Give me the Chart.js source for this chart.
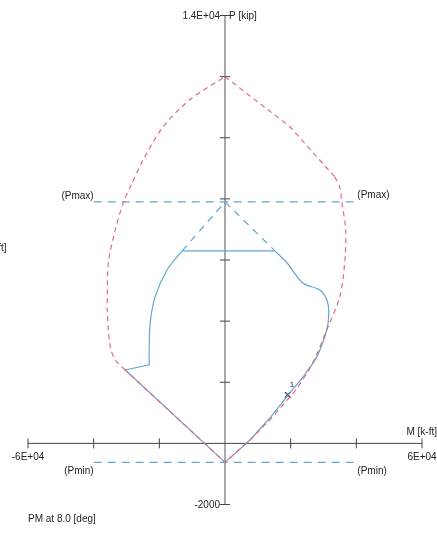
<!DOCTYPE html>
<html>
<head>
<meta charset="utf-8">
<script src="https://cdn.jsdelivr.net/npm/chart.js@4/dist/chart.umd.min.js"></script>
<style>
html,body{margin:0;padding:0;background:#fff;}
canvas{display:block;}
</style>
</head>
<body>
<canvas id="c" width="437" height="533"></canvas>
<script>
// ---- data ----
const nominalM = [0,-30380,-33420,-34940,-35850,-35850,-35540,-33420,-30990,-28250,-24910,-18840,-10630,0,19800,33420,34940,35540,36760,36460,34940,30990,26730,21570,13670,7600,0];
const nominalP = [-620,2400,2730,3160,4280,4800,5910,6990,7870,8530,9280,10360,11250,12000,10360,8720,8390,7910,6990,5910,4790,3710,2630,1740,770,110,-620];
const factoredM = [0,-30380,-23090,-23090,-22790,-21270,-17620,-13060,15190,18840,23700,28860,30990,31600,30990,27950,23700,19750,13670,7600,0];
const factoredP = [-620,2400,2570,3160,3950,4800,5680,6300,6300,5910,5250,5020,4700,4270,3710,2830,2170,1650,830,110,-620];
const capM = [-13060,0,15190];
const capP = [6300,7900,6300];
const pmaxM = [-40000,40000];
const pmaxP = [7900,7900];
const pminM = [-40000,40000];
const pminP = [-620,-620];
const loadM = [19140];
const loadP = [1585];
const loadLabels = ["1"];
const xTicks = [-60000,-40000,-20000,20000,40000,60000];
const yTicks = [-2000,0,2000,4000,6000,8000,10000,12000,14000];
const xTickLabels = {"-60000":"-6E+04","60000":"6E+04"};
const yTickLabels = {"14000":"1.4E+04","-2000":"-2000"};

const zip = (a,b) => a.map((v,i)=>({x:v,y:b[i]}));
const seg = (a,b,i0,i1) => zip(a.slice(i0,i1+1), b.slice(i0,i1+1));
const RED = 'rgb(232,104,124)';
const BLUE = 'rgb(98,166,208)';
const FONT = '10px "Liberation Sans", Arial, sans-serif';

const redLine = (pts, t) => ({data:pts, showLine:true, borderColor:RED, borderWidth:1.2, borderDash:[5,4], pointRadius:0, fill:false, tension:t});
const blueLine = (pts, t) => ({data:pts, showLine:true, borderColor:BLUE, borderWidth:1.2, pointRadius:0, fill:false, tension:t});

const axesPlugin = {
  id:'axesPlugin',
  beforeDatasetsDraw(chart){
    const ctx = chart.ctx, xs = chart.scales.x, ys = chart.scales.y;
    const x0 = xs.getPixelForValue(0), y0 = ys.getPixelForValue(0);
    ctx.save();
    ctx.strokeStyle = '#8c8c8c'; ctx.lineWidth = 1.5;
    ctx.beginPath();
    ctx.moveTo(x0, ys.getPixelForValue(14000)); ctx.lineTo(x0, ys.getPixelForValue(-2000));
    ctx.stroke();
    ctx.strokeStyle = '#444'; ctx.lineWidth = 1;
    yTicks.forEach(v=>{ if(v===0) return; const y = ys.getPixelForValue(v);
      ctx.beginPath(); ctx.moveTo(x0-5,y); ctx.lineTo(x0+5,y); ctx.stroke(); });
    ctx.strokeStyle = '#444'; ctx.lineWidth = 1;
    ctx.beginPath();
    ctx.moveTo(xs.getPixelForValue(-60000), y0); ctx.lineTo(xs.getPixelForValue(60000), y0);
    ctx.stroke();
    xTicks.forEach(v=>{ const x = xs.getPixelForValue(v);
      ctx.beginPath(); ctx.moveTo(x,y0-5); ctx.lineTo(x,y0+5); ctx.stroke(); });
    ctx.restore();
  },
  afterDraw(chart){
    const ctx = chart.ctx, xs = chart.scales.x, ys = chart.scales.y;
    const x0 = xs.getPixelForValue(0), y0 = ys.getPixelForValue(0);
    ctx.save();
    ctx.font = FONT; ctx.fillStyle = '#222'; ctx.textBaseline = 'middle';
    ctx.textAlign = 'right';
    ctx.fillText(yTickLabels["14000"], x0-5, ys.getPixelForValue(14000)+1);
    ctx.fillText(yTickLabels["-2000"], x0-5, ys.getPixelForValue(-2000)+1);
    ctx.textAlign = 'left';
    ctx.fillText('P [kip]', x0+4, ys.getPixelForValue(14000)+1);
    ctx.textAlign = 'center';
    ctx.fillText(xTickLabels["-60000"], xs.getPixelForValue(-60000), y0+14);
    ctx.fillText(xTickLabels["60000"], xs.getPixelForValue(60000), y0+14);
    ctx.textAlign = 'right';
    ctx.fillText('M [k-ft]', 437, y0-11);
    ctx.textAlign = 'right';
    ctx.fillText('(Pmax)', xs.getPixelForValue(pmaxM[0]), ys.getPixelForValue(pmaxP[0])-6);
    ctx.fillText('(Pmin)', xs.getPixelForValue(pminM[0]), ys.getPixelForValue(pminP[0])+9);
    ctx.textAlign = 'left';
    ctx.fillText('(Pmax)', xs.getPixelForValue(pmaxM[1])+1, ys.getPixelForValue(pmaxP[1])-7);
    ctx.fillText('(Pmin)', xs.getPixelForValue(pminM[1])+1, ys.getPixelForValue(pminP[1])+9);
    ctx.fillText('PM at 8.0 [deg]', 28, 519);
    ctx.textAlign = 'right';
    ctx.fillText('k-ft]', 6.5, 248);
    ctx.font = '8px "Liberation Sans", Arial, sans-serif';
    ctx.textAlign = 'left';
    loadLabels.forEach((t,i)=>{
      ctx.fillText(t, xs.getPixelForValue(loadM[i])+2, ys.getPixelForValue(loadP[i])-10);
    });
    ctx.restore();
  }
};

new Chart(document.getElementById('c'), {
  type:'scatter',
  data:{
    datasets:[
      redLine(seg(nominalM,nominalP,23,26).concat(seg(nominalM,nominalP,1,1)), 0),
      redLine(seg(nominalM,nominalP,1,13), 0.3),
      redLine(seg(nominalM,nominalP,13,15), 0),
      redLine(seg(nominalM,nominalP,15,23), 0.3),
      blueLine(seg(factoredM,factoredP,0,3), 0),
      blueLine(seg(factoredM,factoredP,3,7), 0.3),
      blueLine(seg(factoredM,factoredP,7,8), 0),
      blueLine(seg(factoredM,factoredP,8,17), 0.3),
      blueLine(seg(factoredM,factoredP,17,20), 0),
      {data:zip(capM,capP), showLine:true, borderColor:BLUE, borderWidth:1.2, borderDash:[7,6], pointRadius:0, fill:false, tension:0},
      {data:zip(pmaxM,pmaxP), showLine:true, borderColor:BLUE, borderWidth:1.2, borderDash:[8,6], pointRadius:0, fill:false},
      {data:zip(pminM,pminP), showLine:true, borderColor:BLUE, borderWidth:1.2, borderDash:[8,6], pointRadius:0, fill:false},
      {data:zip(loadM,loadP), showLine:false, pointStyle:'crossRot', pointRadius:4, borderColor:'#333', borderWidth:1.3, backgroundColor:'#333'}
    ]
  },
  options:{
    responsive:false,
    animation:false,
    events:[],
    layout:{padding:{left:28,right:15,top:15.5,bottom:28.5}},
    plugins:{legend:{display:false},tooltip:{enabled:false}},
    scales:{
      x:{type:'linear',min:-60000,max:60000,display:false},
      y:{type:'linear',min:-2000,max:14000,display:false}
    }
  },
  plugins:[axesPlugin]
});
</script>
</body>
</html>
